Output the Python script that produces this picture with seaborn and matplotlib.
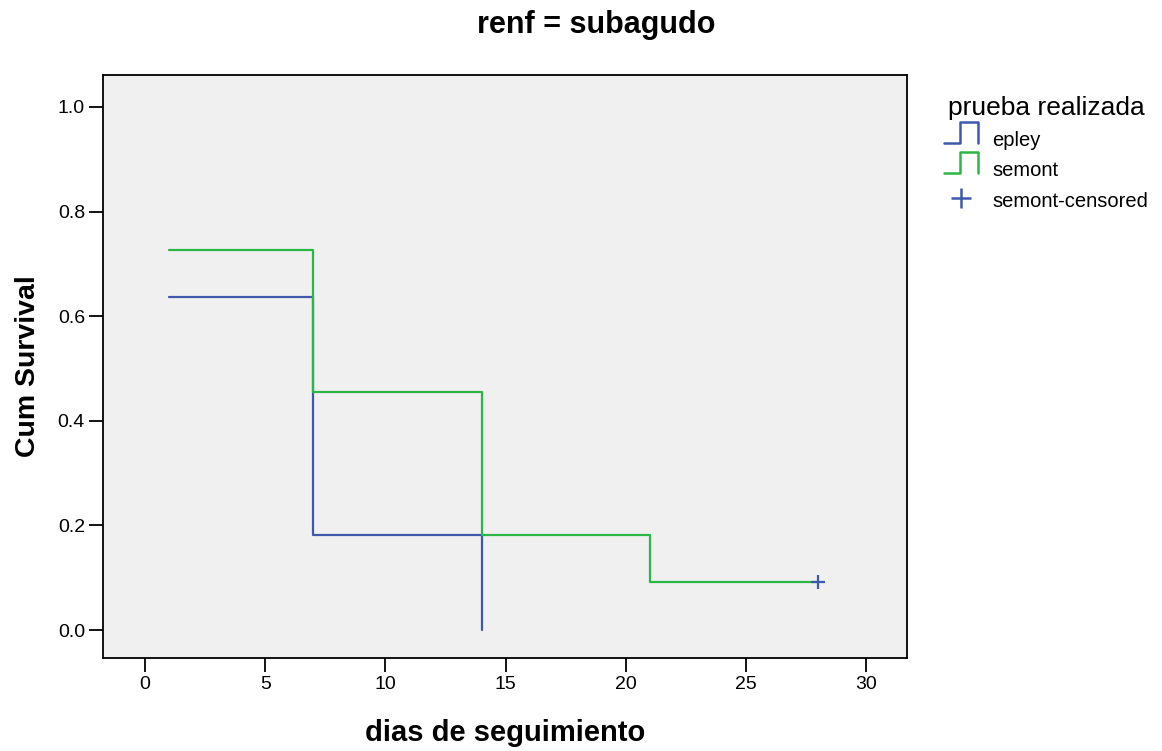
import pandas as pd
import seaborn as sns
from matplotlib import pyplot as plt
from matplotlib.legend_handler import HandlerBase
from matplotlib.lines import Line2D

# survival steps per group (time, cum survival)
epley_t = [1, 7, 14]
epley_s = [0.636, 0.182, 0.0]
semont_t = [1, 7, 14, 21, 28]
semont_s = [0.727, 0.455, 0.182, 0.091, 0.091]
censor_t = [28]
censor_s = [0.091]

groups = ["epley", "semont"]
colors = {"epley": "#3e58ac", "semont": "#2bb743"}

df = pd.concat([
    pd.DataFrame({"t": epley_t, "s": epley_s, "g": "epley"}),
    pd.DataFrame({"t": semont_t, "s": semont_s, "g": "semont"}),
])
cens = pd.DataFrame({"t": censor_t, "s": censor_s})


class StepHandler(HandlerBase):
    # little step icon like the SPSS legend
    def create_artists(self, legend, orig, xd, yd, w, h, fontsize, trans):
        xs = [xd, xd + w * 0.47, xd + w * 0.47, xd + w, xd + w]
        ys = [yd, yd, yd + h, yd + h, yd]
        ln = Line2D(xs, ys, color=orig.get_color(), lw=1.8, transform=trans)
        return [ln]


sns.set_style("white")
plt.rcParams["font.family"] = ["Liberation Sans", "DejaVu Sans"]
plt.rcParams["text.color"] = "black"
plt.rcParams["axes.labelcolor"] = "black"
plt.rcParams["xtick.color"] = "black"
plt.rcParams["ytick.color"] = "black"

fig = plt.figure(figsize=(11.62, 7.51), dpi=100)
ax = fig.add_axes([0.0886, 0.1238, 0.692, 0.7763])
ax.set_facecolor("#f0f0f0")

sns.lineplot(data=df, x="t", y="s", hue="g", palette=colors, hue_order=groups,
             drawstyle="steps-post", lw=1.6, legend=False, ax=ax, sort=False)
sns.scatterplot(data=cens, x="t", y="s", marker="+", s=100, color="#3e58ac",
                linewidth=1.6, ax=ax, zorder=5)

ax.set_xlim(-1.75, 31.7)
ax.set_ylim(-0.0535, 1.061)
ax.set_xticks(range(0, 31, 5))
ax.set_yticks([0.0, 0.2, 0.4, 0.6, 0.8, 1.0])
ax.set_yticklabels(["0.0", "0.2", "0.4", "0.6", "0.8", "1.0"])
ax.tick_params(axis="both", direction="out", length=10, width=1.3,
               labelsize=14, bottom=True, left=True, pad=3)
for sp in ax.spines.values():
    sp.set_color("black")
    sp.set_linewidth(1.3)

ax.set_xlabel("dias de seguimiento", fontsize=21, fontweight="bold", labelpad=19)
ax.set_ylabel("Cum Survival", fontsize=20.5, fontweight="bold", labelpad=12)
fig.text(0.513, 0.956, "renf = subagudo", ha="center", va="baseline",
         fontsize=22, fontweight="bold")

h_ep = Line2D([], [], color=colors["epley"])
h_se = Line2D([], [], color=colors["semont"])
h_ce = Line2D([], [], color="#3e58ac", marker="+", ls="none", markersize=15,
              markeredgewidth=1.8)
leg = fig.legend([h_ep, h_se, h_ce], ["epley", "semont", "semont-censored"],
                 handler_map={h_ep: StepHandler(), h_se: StepHandler()},
                 title="prueba realizada", loc="upper left",
                 bbox_to_anchor=(0.8124, 0.872), frameon=False, fontsize=14.5,
                 title_fontsize=19, handlelength=1.7, handleheight=1.2,
                 handletextpad=0.7, labelspacing=0.45, borderpad=0,
                 borderaxespad=0)

fig.savefig("out.png", dpi=100)
